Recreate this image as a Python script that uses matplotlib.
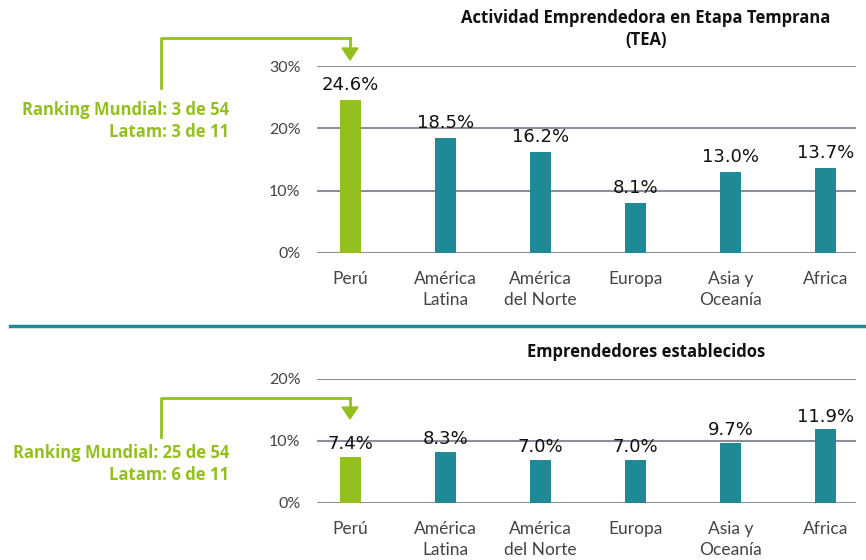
import matplotlib.pyplot as plt
from matplotlib.lines import Line2D

plt.rcParams["font.family"] = ["Lato", "DejaVu Sans"]

# ---- datos ----
regiones = ["Perú", "América\nLatina", "América\ndel Norte", "Europa", "Asia y\nOceanía", "Africa"]
tea = [24.6, 18.5, 16.2, 8.1, 13.0, 13.7]
establecidos = [7.4, 8.3, 7.0, 7.0, 9.7, 11.9]
ranking_tea = ["Ranking Mundial: 3 de 54", "Latam: 3 de 11"]
ranking_est = ["Ranking Mundial: 25 de 54", "Latam: 6 de 11"]

VERDE = "#93c01f"
TEAL = "#1f8a96"
GRIS = "#8a8f99"
W, H = 866, 560


def fx(px):
    return px / W


def fy(py):
    return 1 - py / H


def panel(ax, valores, ymax, titulo, pad_titulo):
    xs = range(len(valores))
    colores = [VERDE] + [TEAL] * (len(valores) - 1)
    ax.bar(xs, valores, width=0.22, color=colores, zorder=3)
    for x, v in zip(xs, valores):
        ax.text(x, v + ymax * 0.03, f"{v:.1f}%", ha="center", va="bottom",
                fontsize=13, family="DejaVu Sans", color="#111111", zorder=4)
    ax.set_ylim(0, ymax)
    ax.set_xlim(-0.35, 5.32)
    ax.set_yticks(range(0, ymax + 1, 10))
    ax.set_yticklabels([f"{t}%" for t in range(0, ymax + 1, 10)])
    ax.yaxis.grid(True, color=GRIS, linewidth=1.5, zorder=0)
    for s in ax.spines.values():
        s.set_visible(False)
    ax.tick_params(axis="both", length=0, colors="#444444")
    ax.tick_params(axis="y", pad=12, labelsize=11.5)
    ax.tick_params(axis="x", pad=13, labelsize=12.5)
    ax.set_xticks(list(xs))
    ax.set_xticklabels(regiones, linespacing=1.4)
    ax.set_title(titulo, fontsize=12, fontweight="bold", color="#111111",
                 pad=pad_titulo, x=0.61, family=["Open Sans", "DejaVu Sans"],
                 linespacing=1.3)


def flecha(fig, y_top, y_bottom, y_punta, textos, y_textos):
    fig.add_artist(Line2D([fx(161), fx(161), fx(350)], [fy(y_bottom), fy(y_top), fy(y_top)],
                          color=VERDE, linewidth=2, transform=fig.transFigure))
    fig.add_artist(Line2D([fx(350), fx(350)], [fy(y_top), fy(y_punta - 8)],
                          color=VERDE, linewidth=2, transform=fig.transFigure))
    fig.patches.append(plt.Polygon([[fx(342), fy(y_punta - 12)], [fx(358), fy(y_punta - 12)],
                                    [fx(350), fy(y_punta)]], closed=True, color=VERDE,
                                   transform=fig.transFigure, figure=fig))
    for t, yt in zip(textos, y_textos):
        fig.text(fx(229), fy(yt), t, ha="right", va="center", fontsize=12,
                 fontweight="bold", color=VERDE, family=["Open Sans", "DejaVu Sans"])


fig = plt.figure(figsize=(8.66, 5.6), dpi=100)

ax1 = fig.add_axes([fx(317), fy(253), fx(856 - 317), (253 - 66) / H])
panel(ax1, tea, 30, "Actividad Emprendedora en Etapa Temprana\n(TEA)", 15)

ax2 = fig.add_axes([fx(317), fy(503), fx(856 - 317), (503 - 379) / H])
panel(ax2, establecidos, 20, "Emprendedores establecidos", 16)

# separador
fig.add_artist(Line2D([fx(10), fx(866)], [fy(326), fy(326)], color=TEAL, linewidth=2.5,
                      transform=fig.transFigure))

flecha(fig, 38, 88, 60, ranking_tea, [110, 132])
flecha(fig, 398, 437, 419, ranking_est, [453, 475])

fig.savefig("out.png", dpi=100)
